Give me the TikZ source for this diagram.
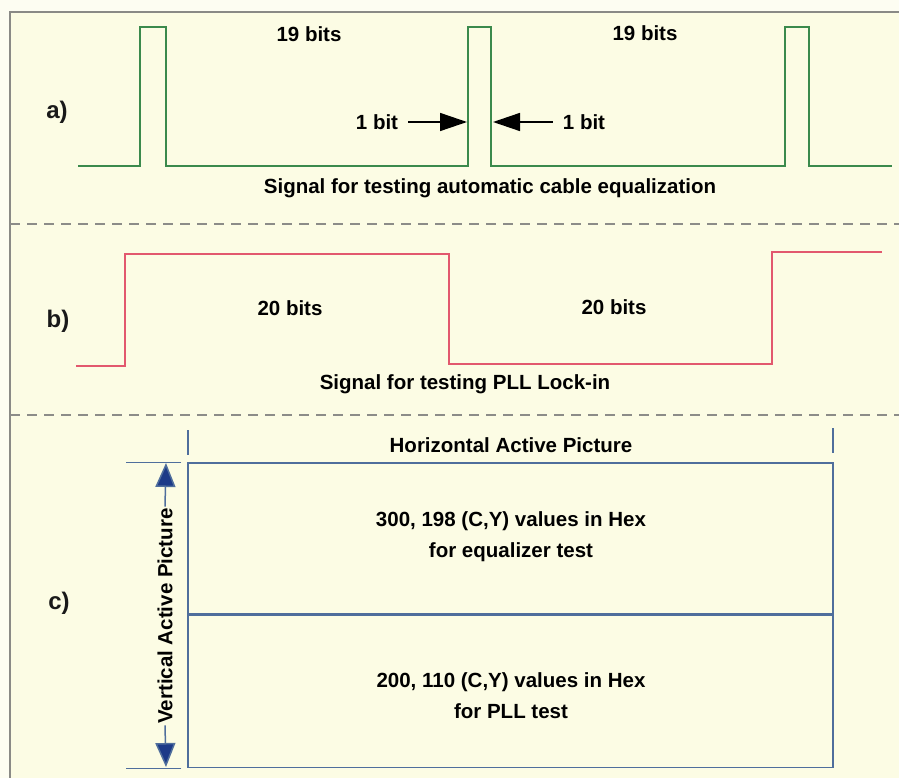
\documentclass[tikz,border=0pt]{standalone}
\usepackage{fontspec}
\setmainfont{Liberation Sans}
\usetikzlibrary{arrows.meta}
\definecolor{bgout}{HTML}{FDFDF2}
\definecolor{bgin}{HTML}{FCFCE4}
\definecolor{framegray}{HTML}{8A8A86}
\definecolor{dashgray}{HTML}{8C8C88}
\definecolor{siggreen}{HTML}{3B8A4C}
\definecolor{sigred}{HTML}{E2586E}
\definecolor{boxblue}{HTML}{4F6E9C}
\definecolor{headblue}{HTML}{1C3A88}
\begin{document}
\begin{tikzpicture}[x=1pt,y=-1pt,
  lbl/.style={font=\bfseries\fontsize{20.5}{31}\selectfont, inner sep=0pt, align=center, text=black},
  partlbl/.style={font=\bfseries\fontsize{24}{28}\selectfont, inner sep=0pt, text=black!90},
  dashline/.style={dashgray, line width=1.1pt, dash pattern=on 10pt off 7pt},
  greensig/.style={siggreen, line width=1.8pt, line join=miter},
  redsig/.style={sigred, line width=1.5pt},
  bitarrow/.style={black, line width=1.5pt, -{Triangle[length=27pt,width=18pt]}},
  blueline/.style={boxblue, line width=1.5pt},
  panebox/.style={draw=boxblue, line width=1.5pt, minimum width=645pt, inner sep=0pt},
  vertarrow/.style={boxblue, line width=1.5pt, -{Triangle[length=24pt,width=20pt,fill=headblue]}, draw=boxblue}
]
\useasboundingbox (0,0) rectangle (899,778);
\fill[bgout] (0,0) rectangle (899,778);
\fill[bgin] (10,12) rectangle (899,778);
\draw[framegray, line width=1.3pt] (10,778) -- (10,12) -- (899,12);

% ---- panel a ----
\node[partlbl] (la) at (57,112) {a)};
\draw[greensig] (78,166) -- (140,166) -- (140,27) -- (166,27) -- (166,166)
  -- (468,166) -- (468,27) -- (491,27) -- (491,166)
  -- (785,166) -- (785,27) -- (809,27) -- (809,166) -- (892,166);
\node[lbl] (bitsA1) at (309,34) {19 bits};
\node[lbl] (bitsA2) at (645,33) {19 bits};
\node[lbl] (oneL) at (377,122) {1 bit};
\node[lbl] (oneR) at (584,122) {1 bit};
\coordinate (pulseL) at (467,122);
\coordinate (pulseR) at (493,122);
\draw[bitarrow] ([xshift=10pt]oneL.east) -- (pulseL);
\draw[bitarrow] ([xshift=-10pt]oneR.west) -- (pulseR);
\node[lbl] (capA) at (490,188) {Signal for testing automatic cable equalization};
\draw[dashline] (10,224) -- (899,224);

% ---- panel b ----
\node[partlbl] (lb) at (58,321) {b)};
\draw[redsig] (76,366) -- (125,366) -- (125,254) -- (449,254) -- (449,364)
  -- (772,364) -- (772,252) -- (882,252);
\node[lbl] (bitsB1) at (290,308) {20 bits};
\node[lbl] (bitsB2) at (614,307) {20 bits};
\node[lbl] (capB) at (465,384) {Signal for testing PLL Lock-in};
\draw[dashline] (10,415) -- (899,415);

% ---- panel c ----
\node[partlbl] (lc) at (59,603) {c)};
\node[lbl] (hap) at (511,445) {Horizontal Active Picture};
\draw[blueline] (188,430) -- (188,455);
\draw[blueline] (833,428) -- (833,453);
\node[panebox, minimum height=151pt] (upper) at (510.5,538.5) {};
\node[panebox, minimum height=152pt, anchor=north] (lower) at (upper.south) {};
\node[lbl] (uptext) at (511,536.5) {300, 198 (C,Y) values in Hex\\for equalizer test};
\node[lbl] (lowtext) at (511,695.5) {200, 110 (C,Y) values in Hex\\for PLL test};
\draw[blueline] ([xshift=-6pt]upper.north west) -- ++(-55pt,0pt);
\draw[blueline] ([xshift=-6pt]lower.south west) -- ++(-55pt,0pt);
\node[lbl, rotate=90, inner sep=1.5pt] (vap) at (165,616) {Vertical Active Picture};
\coordinate (vtop) at (166,463);
\coordinate (vbot) at (166,767);
\draw[vertarrow] (vap.east) -- (vtop);
\draw[vertarrow] (vap.west) -- (vbot);
\end{tikzpicture}
\end{document}
